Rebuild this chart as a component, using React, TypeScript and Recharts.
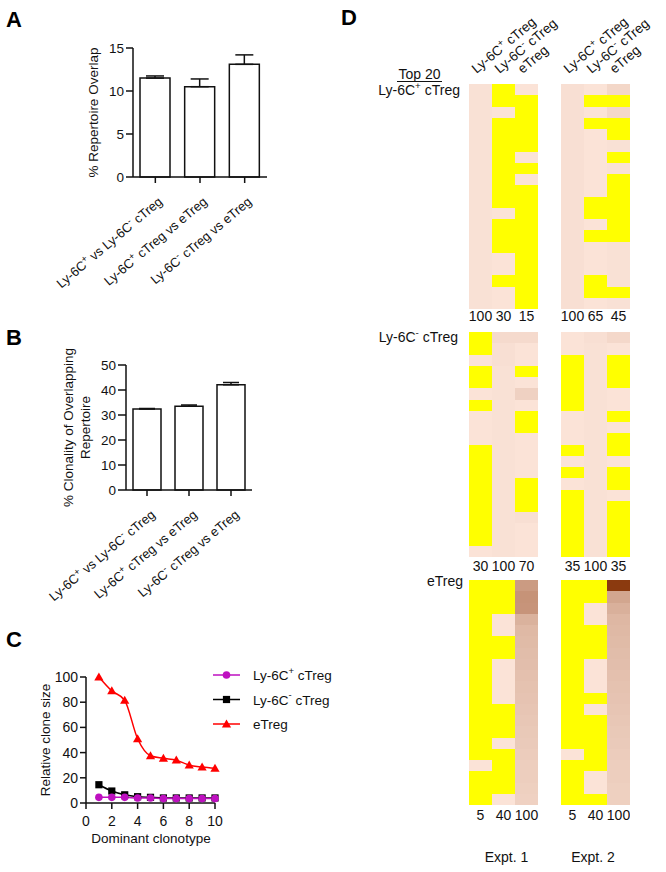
import React from "react"
import { BarChart, Bar, XAxis, YAxis, ErrorBar, LineChart, Line, Legend, Cell, LabelList } from "recharts"

const FONT = '"Liberation Sans", Arial, Helvetica, sans-serif'
const INK = "#111"

// ---- panel A: repertoire overlap
const pairLabels = ["Ly-6C^+ vs Ly-6C^- cTreg", "Ly-6C^+ cTreg vs eTreg", "Ly-6C^- cTreg vs eTreg"]
const overlapMean = [11.5, 10.5, 13.1]
const overlapErr = [0.25, 0.9, 1.1]
const overlapTicks = [0, 5, 10, 15]

// ---- panel B: clonality of overlapping repertoire
const clonalityMean = [32.4, 33.5, 42.1]
const clonalityErr = [0.2, 0.5, 0.9]
const clonalityTicks = [0, 10, 20, 30, 40, 50]

// ---- panel C: relative clone size of dominant clonotypes
const clonotype = [1, 2, 3, 4, 5, 6, 7, 8, 9, 10]
const ly6cPosSize = [4.5, 4.5, 4.5, 4, 4, 3.5, 3.5, 3.5, 3.5, 3.5]
const ly6cNegSize = [14.5, 9.5, 6.5, 5, 4.5, 4, 4, 4, 4, 4]
const eTregSize = [100, 89, 81.5, 51, 37.5, 35.5, 34, 30, 28.5, 27.5]
const cTicksX = [0, 2, 4, 6, 8, 10]
const cTicksY = [0, 20, 40, 60, 80, 100]
const seriesNames = ["Ly-6C^+ cTreg", "Ly-6C^- cTreg", "eTreg"]
const seriesColors = ["#BE10C0", "#000000", "#FF0000"]

// ---- panel D: top 20 clones of each subset, frequency in each subset (0 = not found)
const heatHeaders = ["Ly-6C^+ cTreg", "Ly-6C^- cTreg", "eTreg"]

const posTopE1 = [
  [4, 4, 4, 4, 4, 4, 4, 4, 4, 4, 4, 4, 4, 4, 4, 4, 4, 4, 4, 4],
  [0, 0, 3, 0, 0, 0, 0, 0, 0, 0, 0, 3, 0, 0, 0, 3, 3, 0, 3, 3],
  [3, 0, 0, 0, 0, 0, 3, 0, 3, 0, 0, 0, 0, 0, 0, 0, 0, 0, 0, 0],
]
const posTopE2 = [
  [5, 5, 5, 5, 5, 5, 5, 5, 5, 5, 5, 5, 5, 5, 5, 5, 5, 5, 5, 5],
  [3, 0, 3, 0, 3, 3, 3, 3, 3, 3, 0, 0, 3, 0, 3, 3, 3, 0, 0, 3],
  [10, 0, 9, 0, 0, 4, 0, 4, 0, 0, 0, 0, 0, 0, 4, 4, 4, 4, 0, 4],
]
const negTopE1 = [
  [0, 0, 3, 0, 0, 3, 0, 3, 3, 3, 0, 0, 0, 0, 0, 0, 0, 0, 0, 3],
  [8, 5, 5, 4, 4, 4, 4, 4, 4, 4, 4, 4, 4, 4, 4, 4, 4, 4, 4, 4],
  [8, 3, 3, 0, 3, 13, 3, 0, 0, 3, 3, 3, 3, 0, 0, 0, 5, 3, 3, 3],
]
const negTopE2 = [
  [3, 3, 0, 0, 0, 0, 0, 3, 3, 3, 0, 3, 0, 3, 0, 0, 0, 0, 0, 0],
  [5, 4, 4, 4, 4, 4, 4, 4, 4, 4, 4, 4, 4, 4, 4, 4, 4, 4, 4, 4],
  [9, 3, 0, 0, 0, 3, 3, 0, 3, 0, 0, 3, 0, 0, 3, 0, 0, 0, 0, 0],
]
const effTopE1 = [
  [0, 0, 0, 0, 0, 0, 0, 0, 0, 0, 0, 0, 0, 0, 0, 0, 3, 0, 0, 0],
  [0, 0, 0, 3, 3, 0, 0, 3, 3, 3, 3, 0, 0, 0, 3, 0, 0, 0, 0, 3],
  [44, 49, 48, 31, 27, 26, 25, 24, 23, 22, 21, 20, 19, 18, 17, 16, 15, 15, 14, 13],
]
const effTopE2 = [
  [0, 0, 0, 0, 0, 0, 0, 0, 0, 0, 0, 0, 0, 0, 0, 3, 0, 0, 0, 0],
  [0, 0, 3, 3, 0, 0, 0, 3, 3, 3, 0, 3, 0, 0, 0, 0, 0, 3, 3, 0],
  [100, 38, 32, 28, 27, 26, 25, 24, 23, 22, 21, 20, 19, 18, 17, 16, 15, 15, 14, 14],
]
const posPct = ["100", "30", "15", "", "100", "65", "45"]
const negPct = ["30", "100", "70", "", "35", "100", "35"]
const effPct = ["5", "40", "100", "", "5", "40", "100"]

const slots = ["e1a", "e1b", "e1c", "gap", "e2a", "e2b", "e2c"]
const rowKeys = Array.from({ length: 20 }, (_, i) => `r${i}`)

const PEACH = [254, 232, 221]
const BROWN = [139, 58, 15]

function heatColor(v: number) {
  if (!v) return "#FFFF00"
  const t = Math.min(v, 100) / 100
  const c = PEACH.map((p, i) => Math.round(p + (BROWN[i] - p) * t))
  return `rgb(${c[0]},${c[1]},${c[2]})`
}

// "Ly-6C^+" -> superscript sign
function rich(label: string, size: number) {
  const parts = label.split(/\^([+-])/)
  const out: React.ReactNode[] = []
  let raised = false
  parts.forEach((p, i) => {
    if (i % 2 === 1) {
      out.push(
        <tspan key={i} dy={-size * 0.4} fontSize={size * 0.7}>
          {p}
        </tspan>
      )
      raised = true
    } else if (p) {
      out.push(
        <tspan key={i} dy={raised ? size * 0.4 : 0}>
          {p}
        </tspan>
      )
      raised = false
    }
  })
  return out
}

const ANGLE = -40

const AngledTick = ({ x, y, payload, dx = 8, dy = 18 }: any) => {
  const ax = x + dx
  const ay = y + dy
  return (
    <text x={ax} y={ay} transform={`rotate(${ANGLE}, ${ax}, ${ay})`} textAnchor="end" fontSize={13} fill={INK}>
      {rich(payload.value, 13)}
    </text>
  )
}

function Marker({ shape, cx, cy, color }: { shape: number; cx: number; cy: number; color: string }) {
  if (shape === 0) return <circle cx={cx} cy={cy} r={3.8} fill={color} />
  if (shape === 1) return <rect x={cx - 3.6} y={cy - 3.6} width={7.2} height={7.2} fill={color} />
  return <path d={`M${cx},${cy - 4.6} L${cx + 4.6},${cy + 3.4} L${cx - 4.6},${cy + 3.4} Z`} fill={color} />
}

function OverlapChart() {
  const data = pairLabels.map((name, i) => ({ name, value: overlapMean[i], err: [0, overlapErr[i]] }))
  return (
    <div style={{ position: "absolute", left: 0, top: 0 }}>
      <BarChart width={280} height={300} data={data} margin={{ top: 48, right: 13, bottom: 0, left: 0 }}>
        <YAxis
          width={133}
          domain={[0, 15]}
          ticks={overlapTicks}
          tickSize={7}
          tickMargin={2}
          stroke={INK}
          strokeWidth={1.5}
          tick={{ fontSize: 13.5, fill: INK }}
          label={(p: any) => {
            const cy = p.viewBox.y + p.viewBox.height / 2
            return (
              <text x={93} y={cy} transform={`rotate(-90, 93, ${cy})`} textAnchor="middle" dominantBaseline="central" fontSize={13.5} fill={INK}>
                % Repertoire Overlap
              </text>
            )
          }}
        />
        <XAxis dataKey="name" interval={0} height={123} tickSize={6} stroke={INK} strokeWidth={1.5} tick={<AngledTick />} />
        <Bar dataKey="value" fill="#fff" stroke={INK} strokeWidth={1.5} barSize={30} isAnimationActive={false}>
          <ErrorBar dataKey="err" width={9} stroke={INK} strokeWidth={1.5} />
        </Bar>
      </BarChart>
    </div>
  )
}

function ClonalityChart() {
  const data = pairLabels.map((name, i) => ({ name, value: clonalityMean[i], err: [0, clonalityErr[i]] }))
  return (
    <div style={{ position: "absolute", left: 0, top: 300 }}>
      <BarChart width={280} height={320} data={data} margin={{ top: 65, right: 28, bottom: 0, left: 0 }}>
        <YAxis
          width={126}
          domain={[0, 50]}
          ticks={clonalityTicks}
          tickSize={8}
          tickMargin={2}
          stroke={INK}
          strokeWidth={1.5}
          tick={{ fontSize: 13.5, fill: INK }}
          label={(p: any) => {
            const cy = p.viewBox.y + p.viewBox.height / 2
            return (
              <g>
                <text x={68} y={cy} transform={`rotate(-90, 68, ${cy})`} textAnchor="middle" dominantBaseline="central" fontSize={13.5} fill={INK}>
                  % Clonality of Overlapping
                </text>
                <text x={85} y={cy} transform={`rotate(-90, 85, ${cy})`} textAnchor="middle" dominantBaseline="central" fontSize={13.5} fill={INK}>
                  Repertoire
                </text>
              </g>
            )
          }}
        />
        <XAxis dataKey="name" interval={0} height={130} tickSize={6} stroke={INK} strokeWidth={1.5} tick={<AngledTick dx={9} dy={18} />} />
        <Bar dataKey="value" fill="#fff" stroke={INK} strokeWidth={1.5} barSize={28} isAnimationActive={false}>
          <ErrorBar dataKey="err" width={8} stroke={INK} strokeWidth={1.5} />
        </Bar>
      </BarChart>
    </div>
  )
}

function CloneSizeChart() {
  const data = clonotype.map((c, i) => ({ c, pos: ly6cPosSize[i], neg: ly6cNegSize[i], eff: eTregSize[i] }))
  const keys = ["pos", "neg", "eff"]
  const legend = () => (
    <svg width={128} height={74} style={{ display: "block" }}>
      {seriesNames.map((n, i) => {
        const y = 12 + i * 24.5
        return (
          <g key={n}>
            <line x1={1} x2={28} y1={y} y2={y} stroke={seriesColors[i]} strokeWidth={1.5} />
            <Marker shape={i} cx={14.5} cy={y} color={seriesColors[i]} />
            <text x={41} y={y} dominantBaseline="central" fontSize={13.5} fill={INK}>
              {rich(n, 13.5)}
            </text>
          </g>
        )
      })}
    </svg>
  )
  return (
    <div style={{ position: "absolute", left: 0, top: 600 }}>
      <LineChart width={340} height={260} data={data} margin={{ top: 77, right: 125, bottom: 0, left: 0 }}>
        <XAxis
          dataKey="c"
          type="number"
          domain={[0, 10]}
          ticks={cTicksX}
          height={57}
          tickSize={6}
          tickMargin={7}
          stroke={INK}
          strokeWidth={1.5}
          tick={{ fontSize: 14, fill: INK }}
          label={() => (
            <text x={151} y={243} textAnchor="middle" fontSize={13.5} fill={INK}>
              Dominant clonotype
            </text>
          )}
        />
        <YAxis
          width={86}
          domain={[0, 100]}
          ticks={cTicksY}
          tickSize={6}
          tickMargin={2}
          stroke={INK}
          strokeWidth={1.5}
          tick={{ fontSize: 14, fill: INK }}
          label={(p: any) => {
            const cy = p.viewBox.y + p.viewBox.height / 2
            return (
              <text x={45} y={cy} transform={`rotate(-90, 45, ${cy})`} textAnchor="middle" dominantBaseline="central" fontSize={13.5} fill={INK}>
                Relative clone size
              </text>
            )
          }}
        />
        <Legend layout="vertical" align="center" verticalAlign="middle" wrapperStyle={{ left: 212, top: 63, width: 128 }} content={legend} />
        {[2, 1, 0].map((s) => (
          <Line
            key={keys[s]}
            dataKey={keys[s]}
            type="monotone"
            stroke={seriesColors[s]}
            strokeWidth={1.5}
            isAnimationActive={false}
            dot={(p: any) => <Marker key={`${keys[s]}-${p.index}`} shape={s} cx={p.cx} cy={p.cy} color={seriesColors[s]} />}
          />
        ))}
      </LineChart>
    </div>
  )
}

const HEAT_LEFT = 469
const HEAT_WIDTH = 161 // 7 bands of 23px

function HeatBlock({ e1, e2, pct, top, height, tickGap, headers }: any) {
  const columns = [...e1, null, ...e2]
  const headSpace = headers ? 74 : 0
  const rightSpace = headers ? 666 - HEAT_LEFT - HEAT_WIDTH : 0
  const slotHeaders = [...heatHeaders, "", ...heatHeaders]
  const data = slots.map((slot, i) => {
    const row: any = { slot, head: slotHeaders[i] }
    rowKeys.forEach((k) => (row[k] = columns[i] ? 1 : 0))
    return row
  })
  const header = (p: any) => {
    const vb = p.viewBox || p
    const label = p.value
    if (!label || typeof label !== "string") return null
    const cx = vb.x + vb.width / 2 - 4
    const y0 = Math.min(vb.y, vb.y + vb.height) - 10
    return (
      <text key={`h${cx}`} x={cx} y={y0} transform={`rotate(${ANGLE}, ${cx}, ${y0})`} fontSize={13.5} fill={INK}>
        {rich(label, 13.5)}
      </text>
    )
  }
  return (
    <div style={{ position: "absolute", left: HEAT_LEFT, top: top - headSpace }}>
      <BarChart width={HEAT_WIDTH + rightSpace} height={headSpace + height + 24} data={data} margin={{ top: headSpace, right: rightSpace, bottom: 0, left: 0 }} barCategoryGap={0} barGap={0}>
        <XAxis
          dataKey="slot"
          interval={0}
          axisLine={false}
          tickLine={false}
          tickSize={tickGap}
          tickMargin={0}
          height={24}
          tick={{ fontSize: 14, fill: INK }}
          tickFormatter={(_: any, i: number) => pct[i]}
        />
        <YAxis hide reversed type="number" domain={[0, 20]} />
        {rowKeys.map((k, r) => (
          <Bar key={k} dataKey={k} stackId="heat" isAnimationActive={false} shapeRendering="crispEdges">
            {data.map((_, i) => (
              <Cell key={i} fill={columns[i] ? heatColor(columns[i][r]) : "none"} />
            ))}
            {r === 0 && headers ? <LabelList dataKey="head" content={header} /> : null}
          </Bar>
        ))}
      </BarChart>
    </div>
  )
}

export default function App() {
  const t = { fontSize: 14, fill: INK }
  return (
    <div style={{ position: "absolute", left: 0, top: 0, width: 666, height: 872, background: "#fff", overflow: "hidden", fontFamily: FONT }}>
      <OverlapChart />
      <ClonalityChart />
      <CloneSizeChart />
      <HeatBlock e1={posTopE1} e2={posTopE2} pct={posPct} top={84} height={225} tickGap={2} headers />
      <HeatBlock e1={negTopE1} e2={negTopE2} pct={negPct} top={332} height={225} tickGap={4} />
      <HeatBlock e1={effTopE1} e2={effTopE2} pct={effPct} top={580} height={225} tickGap={5} />
      <svg width={666} height={872} style={{ position: "absolute", left: 0, top: 0, pointerEvents: "none" }}>
        <g fontWeight="bold" fontSize={22} fill="#000">
          <text x={6} y={27}>A</text>
          <text x={6} y={345}>B</text>
          <text x={6} y={647}>C</text>
          <text x={341} y={25}>D</text>
        </g>
        <text x={419.5} y={79} textAnchor="middle" {...t}>
          Top 20
        </text>
        <line x1={397} x2={442} y1={81.5} y2={81.5} stroke={INK} strokeWidth={1} />
        <text x={460} y={95} textAnchor="end" {...t}>
          {rich("Ly-6C^+ cTreg", 14)}
        </text>
        <text x={458} y={342} textAnchor="end" {...t}>
          {rich("Ly-6C^- cTreg", 14)}
        </text>
        <text x={463} y={586} textAnchor="end" {...t}>
          eTreg
        </text>
        <text x={506.5} y={862} textAnchor="middle" {...t}>
          Expt. 1
        </text>
        <text x={593} y={862} textAnchor="middle" {...t}>
          Expt. 2
        </text>
      </svg>
    </div>
  )
}
